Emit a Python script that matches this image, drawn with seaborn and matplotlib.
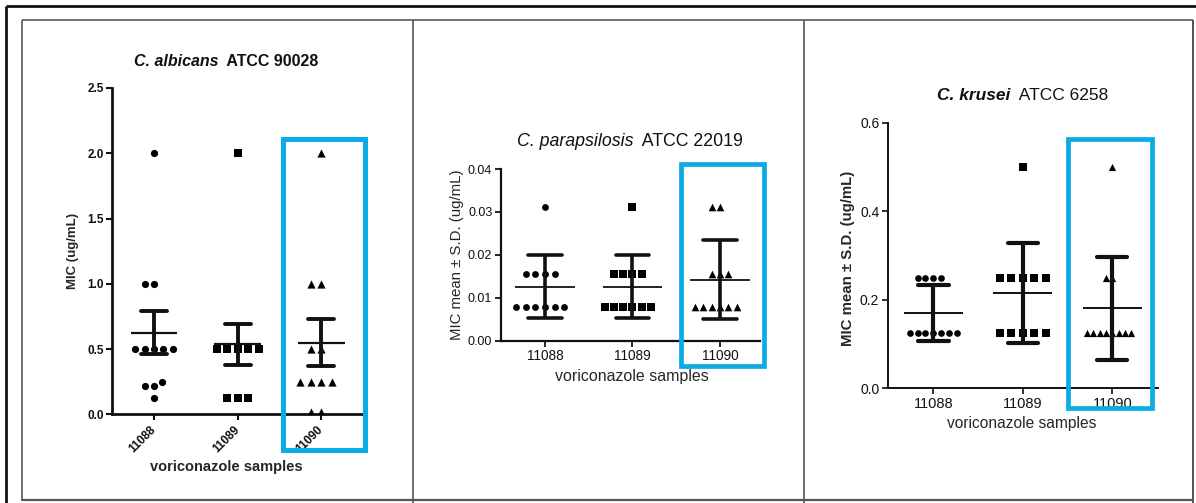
import warnings
import numpy as np
import pandas as pd
import matplotlib
matplotlib.use("Agg")
import matplotlib.pyplot as plt
import seaborn as sns
from matplotlib.patches import Rectangle
from matplotlib.lines import Line2D
from matplotlib.markers import MarkerStyle
from matplotlib.transforms import Affine2D

warnings.filterwarnings("ignore")
sns.set_theme(style="ticks")
plt.rcParams['font.family'] = ['Liberation Sans', 'DejaVu Sans']

# ---------------- data ----------------
categories = ["11088", "11089", "11090"]

alb_11088 = [2.0, 1.0, 1.0, 0.5, 0.5, 0.5, 0.5, 0.5, 0.25, 0.22, 0.22, 0.125]
alb_11089 = [2.0, 0.5, 0.5, 0.5, 0.5, 0.5, 0.125, 0.125, 0.125]
alb_11090 = [2.0, 1.0, 1.0, 0.5, 0.5, 0.25, 0.25, 0.25, 0.25, 0.015, 0.015]
alb_mean = [0.625, 0.535, 0.55]
alb_sd = [0.165, 0.155, 0.18]

par_11088 = [0.03125, 0.0156, 0.0156, 0.0156, 0.0156,
             0.0078, 0.0078, 0.0078, 0.0078, 0.0078, 0.0078]
par_11089 = [0.03125, 0.0156, 0.0156, 0.0156, 0.0156,
             0.0078, 0.0078, 0.0078, 0.0078, 0.0078, 0.0078]
par_11090 = [0.03125, 0.03125, 0.0156, 0.0156, 0.0156,
             0.0078, 0.0078, 0.0078, 0.0078, 0.0078, 0.0078]
par_mean = [0.0126, 0.0126, 0.0142]
par_sd = [0.0074, 0.0074, 0.0092]

kru_11088 = [0.25, 0.25, 0.25, 0.25,
             0.125, 0.125, 0.125, 0.125, 0.125, 0.125, 0.125]
kru_11089 = [0.5, 0.25, 0.25, 0.25, 0.25, 0.25,
             0.125, 0.125, 0.125, 0.125, 0.125]
kru_11090 = [0.5, 0.25, 0.25,
             0.125, 0.125, 0.125, 0.125, 0.125, 0.125, 0.125, 0.125]
kru_mean = [0.17, 0.2155, 0.181]
kru_sd = [0.063, 0.1135, 0.116]

markers = ["o", "s", "^"]
BLUE = "#0AACE3"
INK = "#111111"

W, H = 1196, 503
fig = plt.figure(figsize=(W / 100, H / 100), dpi=100)
fig.patch.set_facecolor("white")


def fx(px):
    return px / W


def fy(py):
    return 1 - py / H


def axes_px(l, t, r, b):
    return fig.add_axes([fx(l), fy(b), fx(r) - fx(l), (b - t) / H])


# ---------------- table frame ----------------
def fline(x0, y0, x1, y1, lw, color):
    fig.add_artist(Line2D([fx(x0), fx(x1)], [fy(y0), fy(y1)],
                          transform=fig.transFigure, lw=lw, color=color,
                          solid_capstyle="butt"))


fline(6, 6, W, 6, 2.0, "#111111")
fline(6, 6, 6, H, 2.0, "#111111")
fline(22, 20, 1193, 20, 1.3, "#666666")
fline(22, 20, 22, 501, 1.3, "#666666")
fline(1193, 20, 1193, H, 1.3, "#444444")
fline(22, 500, 1193, 500, 1.6, "#555555")
fline(412.7, 20, 412.7, H, 1.2, "#555555")
fline(804, 20, 804, H, 1.2, "#555555")


def two_part_title(xc, yc, ital, rest, size, w_it, w_rest):
    t1 = fig.text(0, 0, ital, style="italic", fontsize=size, fontweight=w_it,
                  ha="left", va="center", color=INK)
    t2 = fig.text(0, 0, rest, fontsize=size, fontweight=w_rest,
                  ha="left", va="center", color=INK)
    r = fig.canvas.get_renderer()
    w1 = t1.get_window_extent(r).width
    w2 = t2.get_window_extent(r).width
    x0 = xc - (w1 + w2) / 2
    t1.set_position((fx(x0), fy(yc)))
    t2.set_position((fx(x0 + w1), fy(yc)))


def panel(ax, groups, mean, sd, spacing, drawn, mean_hw, cap_hw, lw_mean, lw_bar):
    for cat, vals, mk, sp, dr in zip(categories, groups, markers, spacing, drawn):
        df = pd.DataFrame({"sample": [cat] * len(vals), "mic": vals})
        n_before = len(ax.collections)
        sns.swarmplot(data=df, x="sample", y="mic", order=categories,
                      marker=mk, color="black", size=sp, ax=ax, zorder=3,
                      linewidth=0)
        # keep swarm spacing, draw a smaller glyph
        ms = MarkerStyle(mk)
        path = ms.get_path().transformed(ms.get_transform())
        path = path.transformed(Affine2D().scale(dr / sp))
        for coll in ax.collections[n_before:]:
            coll.set_paths([path])
    for i, (m, s) in enumerate(zip(mean, sd)):
        ax.hlines(m, i - mean_hw, i + mean_hw, color=INK, lw=lw_mean, zorder=4)
        ax.vlines(i, m - s, m + s, color=INK, lw=lw_bar, zorder=4)
        ax.hlines([m - s, m + s], i - cap_hw, i + cap_hw, color=INK,
                  lw=lw_bar, zorder=4, capstyle="round")
    sns.despine(ax=ax)
    ax.set_facecolor("none")


# ---------------- panel 1: C. albicans ----------------
ax1 = axes_px(112.3, 88, 363, 414.3)
panel(ax1, [alb_11088, alb_11089, alb_11090], alb_mean, alb_sd,
      [6.4, 7.2, 7.2], [5.2, 5.3, 5.9], 0.28, 0.155, 1.6, 2.8)
ax1.set_xlim(-0.5, 2.5)
ax1.set_ylim(0, 2.5)
ax1.set_yticks([0.0, 0.5, 1.0, 1.5, 2.0, 2.5])
ax1.set_yticklabels(["0.0", "0.5", "1.0", "1.5", "2.0", "2.5"],
                    fontsize=8.5, fontweight="bold")
ax1.set_xticks([0, 1, 2])
ax1.set_xticklabels(categories, rotation=45, ha="right", va="center",
                    rotation_mode="anchor", fontsize=8.5, fontweight="bold")
ax1.tick_params(axis="both", direction="out", length=4, width=1.5, pad=2,
                colors=INK)
ax1.tick_params(axis="x", pad=6)
for s in ["left", "bottom"]:
    ax1.spines[s].set_linewidth(2.0)
    ax1.spines[s].set_color(INK)
ax1.set_ylabel("MIC (ug/mL)", fontsize=9.5, fontweight="bold", va="center")
ax1.yaxis.set_label_coords(-0.157, 0.5)
ax1.set_xlabel("voriconazole samples", fontsize=10.5, fontweight="bold",
               va="center")
ax1.xaxis.set_label_coords(0.456, -0.16)
ax1.add_patch(Rectangle((1.537, -0.272), 2.526 - 1.537, 2.106 + 0.272,
                        fill=False, ec=BLUE, lw=3.6, clip_on=False, zorder=10))
two_part_title(226, 61, "C. albicans", "  ATCC 90028", 11.5, "bold", "bold")

# ---------------- panel 2: C. parapsilosis ----------------
ax2 = axes_px(500.7, 169, 760, 340.7)
panel(ax2, [par_11088, par_11089, par_11090], par_mean, par_sd,
      [6.6, 6.3, 5.8], [4.9, 5.3, 5.5], 0.34, 0.19, 1.3, 2.6)
ax2.set_xlim(-0.506, 2.457)
ax2.set_ylim(0, 0.04)
ax2.set_yticks([0.0, 0.01, 0.02, 0.03, 0.04])
ax2.set_yticklabels(["0.00", "0.01", "0.02", "0.03", "0.04"], fontsize=9)
ax2.set_xticks([0, 1, 2])
ax2.set_xticklabels(categories, fontsize=9.8)
ax2.tick_params(axis="both", direction="out", length=4, width=1.3, pad=2,
                colors=INK)
for s in ["left", "bottom"]:
    ax2.spines[s].set_linewidth(1.6)
    ax2.spines[s].set_color(INK)
ax2.set_ylabel("MIC mean \u00b1 S.D. (ug/mL)", fontsize=10.8, va="center")
ax2.yaxis.set_label_coords(-0.17, 0.5)
ax2.set_xlabel("voriconazole samples", fontsize=11.5, va="center")
ax2.xaxis.set_label_coords(0.505, -0.206)
ax2.add_patch(Rectangle((1.558, -0.00594), 2.50 - 1.558, 0.04114 + 0.00594,
                        fill=False, ec=BLUE, lw=3.4, clip_on=False, zorder=10))
two_part_title(629.7, 141.7, "C. parapsilosis", "  ATCC 22019", 12.8,
               "normal", "normal")

# ---------------- panel 3: C. krusei ----------------
ax3 = axes_px(887.7, 122.7, 1158, 388.3)
panel(ax3, [kru_11088, kru_11089, kru_11090], kru_mean, kru_sd,
      [5.4, 7.9, 4.3], [4.8, 5.6, 5.2], 0.33, 0.17, 1.4, 3.0)
ax3.set_xlim(-0.5095, 2.511)
ax3.set_ylim(0, 0.6)
ax3.set_yticks([0.0, 0.2, 0.4, 0.6])
ax3.set_yticklabels(["0.0", "0.2", "0.4", "0.6"], fontsize=10)
ax3.set_xticks([0, 1, 2])
ax3.set_xticklabels(categories, fontsize=10.5)
ax3.tick_params(axis="both", direction="out", length=4, width=1.2, pad=2,
                colors=INK)
for s in ["left", "bottom"]:
    ax3.spines[s].set_linewidth(1.4)
    ax3.spines[s].set_color(INK)
ax3.set_ylabel("MIC mean \u00b1 S.D. (ug/mL)", fontsize=10.8, fontweight="bold",
               va="center")
ax3.yaxis.set_label_coords(-0.147, 0.49)
ax3.set_xlabel("voriconazole samples", fontsize=11.2, va="center")
ax3.xaxis.set_label_coords(0.496, -0.132)
ax3.add_patch(Rectangle((1.508, -0.0452), 2.441 - 1.508, 0.5627 + 0.0452,
                        fill=False, ec=BLUE, lw=3.4, clip_on=False, zorder=10))
two_part_title(1022.7, 95, "C. krusei", "  ATCC 6258", 12.5, "bold", "normal")

fig.savefig("out.png", dpi=100, facecolor="white")
